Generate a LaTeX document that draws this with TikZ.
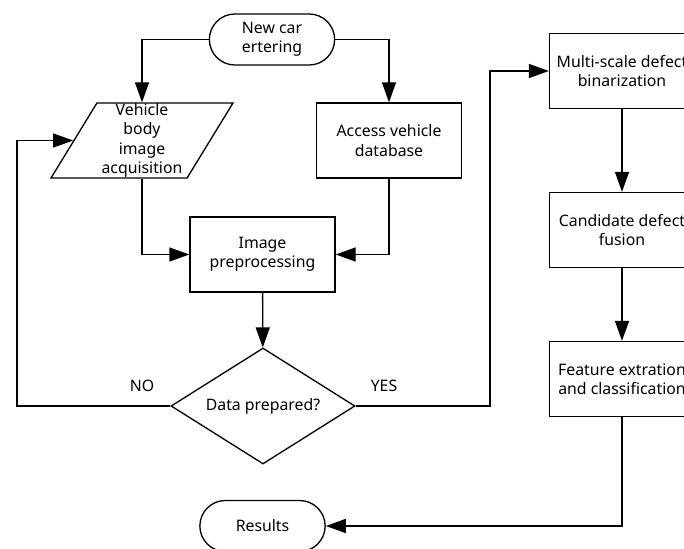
\documentclass[tikz,border=0pt]{standalone}
\usepackage{fontspec}
\setmainfont{Noto Sans}
\usetikzlibrary{shapes.geometric,shapes.misc,arrows.meta}

\begin{document}
\begin{tikzpicture}[
        >={Triangle[length=4mm,width=2.8mm]},
        line width=0.75pt,
        every node/.style={font=\fontsize{9}{11}\selectfont, align=center},
        term/.style={draw, rounded rectangle, minimum width=2.74cm, minimum height=1.02cm},
        io/.style={draw, trapezium, trapezium left angle=63, trapezium right angle=117,
            trapezium stretches=true, minimum width=3.64cm, minimum height=1.5cm, inner sep=2pt},
        proc/.style={draw, rectangle, minimum width=2.9cm, minimum height=1.5cm},
        decision/.style={draw, diamond, aspect=1.6, minimum width=3.68cm, minimum height=2.32cm, inner sep=0pt}
    ]
    \useasboundingbox (0,0) rectangle (13.68,10.96);
    \clip (0,0) rectangle (13.68,10.96);

    % Left column
    \node[term] (start) at (5.44,10.17) {New car\\ertering};
    \node[io, label={center:{Vehicle\\body\\image\\acquisition}}] (acq) at (2.84,8.15) {};
    \node[proc] (db) at (7.78,8.15) {Access vehicle\\database};
    \node[proc] (prep) at (5.25,5.87) {Image\\preprocessing};
    \node[decision] (dec) at (5.26,2.84) {Data prepared?};
    \node[term] (res) at (5.25,0.44) {Results};

    % Right column
    \node[proc] (bin) at (12.44,9.54) {Multi-scale defect\\binarization};
    \node[proc] (fus) at (12.44,6.36) {Candidate defect\\fusion};
    \node[proc] (feat) at (12.44,3.38) {Feature extration\\and classification};

    % Branch labels
    \node (no) at (2.84,3.24) {NO};
    \node (yes) at (7.68,3.24) {YES};

    % Turning points
    \coordinate (noback) at (0.34,0);
    \coordinate (yesup) at (9.8,0);

    % Arrows
    \draw[->] (start.west) -| (acq.north);
    \draw[->] (start.east) -| (db.north);
    \draw[->] (acq.south) |- (prep.west);
    \draw[->] (db.south) |- (prep.east);
    \draw[->] (prep) -- (dec);
    \draw[->] (dec.west) -- (dec.west -| noback) |- (acq.west);
    \draw[->] (dec.east) -- (dec.east -| yesup) |- (bin.west);
    \draw[->] (bin) -- (fus);
    \draw[->] (fus) -- (feat);
    \draw[->] (feat.south) |- (res.east);
\end{tikzpicture}
\end{document}
